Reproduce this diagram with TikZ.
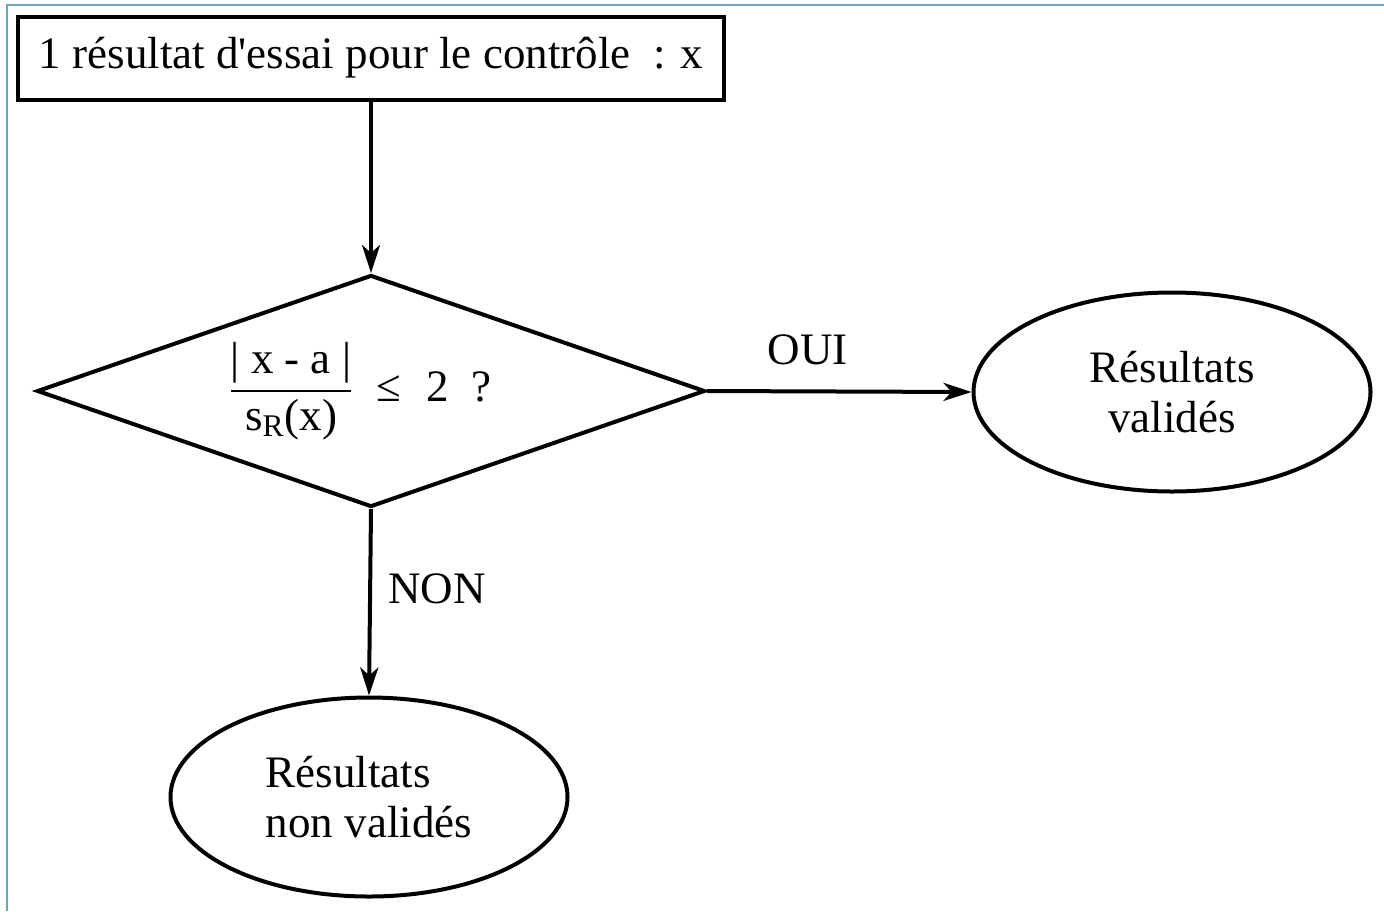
\documentclass[tikz,border=0pt]{standalone}
\usepackage{amsmath}
\usepackage{fontspec}
\setmainfont{Liberation Serif}
\usepackage{tikz}
\usepackage{xcolor}
\usetikzlibrary{shapes.geometric,arrows.meta}
\definecolor{frameblue}{RGB}{110,165,180}
\tikzset{
    flow-box/.style = {draw, line width=2pt, rectangle, inner sep=0pt, minimum width=353pt, minimum height=41.5pt},
    flow-test/.style = {draw, line width=2pt, diamond, inner sep=0pt, aspect=2.88, minimum width=334pt, minimum height=116pt},
    flow-end/.style = {draw, line width=2pt, ellipse, inner sep=0pt, minimum width=198.5pt, minimum height=99.5pt},
    flow-arrow/.style = {line width=2pt, -{Stealth[length=14pt,width=9pt,inset=4pt]}},
    flow-label/.style = {inner sep=0pt},
}

\begin{document}
\begin{tikzpicture}[x=0.5pt,y=-0.5pt,font=\fontsize{22.5}{25}\selectfont]
\useasboundingbox (0,0) rectangle (1384,911);
\draw[frameblue, line width=1pt] (7,911) -- (7,5) -- (1384,5);
\node [flow-box] (input) at (371,58) {1 résultat d\textquotesingle essai pour le contrôle \ : x};
\node [flow-test] (test) at (371,391) {};
\node [flow-label, anchor=west] (rule) at (228,391) {$\dfrac{\text{| x - a |}}{\text{s}_{\text{R}}\text{(x)}}$ \ ≤\hspace{13pt}2\hspace{11pt}?};
\node [flow-end, align=center] (ok) at (1172,392) {Résultats\\validés};
\node [flow-end, align=left] (ko) at (369,797) {Résultats\\non validés};
\draw [flow-arrow] (input.south) -- (test.north);
\draw [flow-arrow] (test.east) -- node[flow-label, pos=0.38, above=12pt] {OUI} (ok.west);
\draw [flow-arrow] (test.south) -- node[flow-label, pos=0.43, right=8pt] {NON} (ko.north);
\end{tikzpicture}
\end{document}
